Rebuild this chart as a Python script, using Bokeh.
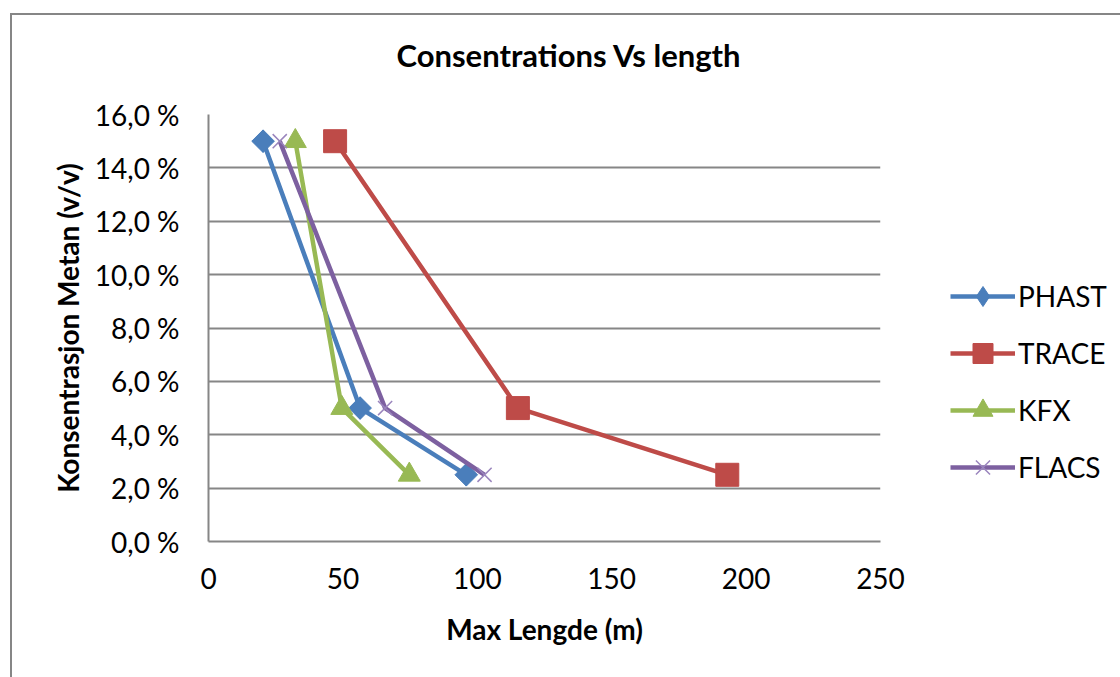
import numpy as np
from bokeh.plotting import figure
from bokeh.models import Range1d, CustomJSTickFormatter, FixedTicker, Legend, LegendItem
from bokeh.embed import file_html
from bokeh.resources import INLINE

# ---- data ----
concentration = [15.0, 5.0, 2.5]          # Konsentrasjon Metan (%)
phast_len = [20.3, 56.4, 95.9]
trace_len = [47.1, 115.1, 193.0]
kfx_len = [32.3, 49.6, 74.7]
flacs_len = [26.5, 65.7, 102.7]

series_names = ["PHAST", "TRACE", "KFX", "FLACS"]
x_ticks = [0, 50, 100, 150, 200, 250]
y_ticks = [0, 2, 4, 6, 8, 10, 12, 14, 16]

FONT = "Lato"
GRID = "#868686"
colors = {"PHAST": "#4A7EBB", "TRACE": "#BE4B48", "KFX": "#98B954", "FLACS": "#7D60A0"}

p = figure(frame_width=672, frame_height=427, output_backend="svg", toolbar_location=None,
           x_range=Range1d(0, 250), y_range=Range1d(0, 16),
           min_border_left=196, min_border_right=240, min_border_top=99, min_border_bottom=136,
           title="Consentrations Vs length\n ")
p.margin = (13, 0, 0, 10)
p.styles = {"border-top": "2px solid #868686", "border-left": "2px solid #868686"}

p.outline_line_color = None
p.background_fill_color = "white"
p.border_fill_color = "white"

p.title.align = "left"
p.title.offset = 188
p.title.text_font = FONT
p.title.text_font_size = "31px"
p.title.text_font_style = "bold"
p.title.text_color = "black"
p.title.standoff = 6

p.xgrid.grid_line_color = None
p.ygrid.grid_line_color = GRID
p.ygrid.grid_line_width = 2
p.ygrid.ticker = FixedTicker(ticks=y_ticks)

for ax in (p.xaxis[0], p.yaxis[0]):
    ax.axis_line_color = GRID
    ax.axis_line_width = 2
    ax.major_tick_line_color = None
    ax.minor_tick_line_color = None
    ax.major_label_text_font = FONT
    ax.major_label_text_font_size = "28px"
    ax.major_label_text_color = "black"
    ax.axis_label_text_font = FONT
    ax.axis_label_text_font_size = "28px"
    ax.axis_label_text_font_style = "bold"
    ax.axis_label_text_color = "black"

p.xaxis.ticker = FixedTicker(ticks=x_ticks)
p.yaxis.ticker = FixedTicker(ticks=y_ticks)
p.yaxis.formatter = CustomJSTickFormatter(code="return tick.toFixed(1).replace('.', ',') + ' %';")
p.xaxis.axis_label = "Max Lengde (m)"
p.yaxis.axis_label = "Konsentrasjon Metan (v/v)"
p.xaxis.major_label_standoff = 20
p.xaxis.axis_label_standoff = 20
p.yaxis.major_label_standoff = 23
p.yaxis.axis_label_standoff = 7

items = []
data = {"PHAST": phast_len, "TRACE": trace_len, "KFX": kfx_len, "FLACS": flacs_len}
for name in series_names:
    c = colors[name]
    xs = data[name]
    ln = p.line(xs, concentration, line_color=c, line_width=4.5)
    if name == "PHAST":
        leg_mk = p.scatter(xs, concentration, marker="diamond", size=22,
                           fill_color=c, line_color=c)
        p.scatter(xs, concentration, marker="square", angle=np.pi / 4, size=16,
                  fill_color=c, line_color=c)
    elif name == "TRACE":
        leg_mk = p.scatter(xs, concentration, marker="square", size=23, fill_color=c, line_color=c)
    elif name == "KFX":
        leg_mk = p.scatter(xs, concentration, marker="triangle", size=22, fill_color=c, line_color=c)
    else:
        leg_mk = p.scatter(xs, concentration, marker="x", size=20, line_color="#9a85bd", line_width=1.5)
    items.append(LegendItem(label=name, renderers=[ln, leg_mk]))

legend = Legend(items=items, location=(70, 49), orientation="vertical")
legend.glyph_width = 65
legend.glyph_height = 50
legend.spacing = 7
legend.padding = 0
legend.margin = 0
legend.label_standoff = 3
legend.label_text_font = FONT
legend.label_text_font_size = "28px"
legend.label_text_color = "black"
legend.border_line_color = None
legend.background_fill_alpha = 0
p.add_layout(legend, "right")

open("out.html", "w").write(file_html(p, INLINE))
